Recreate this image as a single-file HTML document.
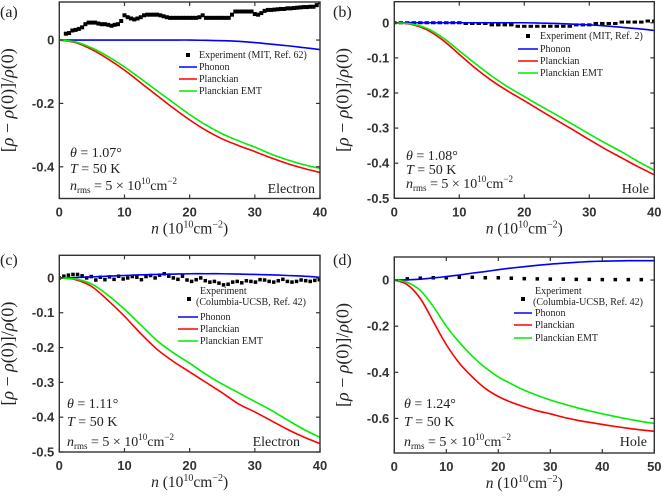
<!DOCTYPE html>
<html><head><meta charset="utf-8"><style>
html,body{margin:0;padding:0;background:#fff;}
svg{display:block;}
.tk{font-family:"Liberation Sans",sans-serif;font-weight:bold;font-size:13px;fill:#333;}
.sf{font-family:"Liberation Serif",serif;fill:#222;}
</style></head><body>
<svg id="fig" width="662" height="496" viewBox="0 0 662 496" xmlns="http://www.w3.org/2000/svg"></svg>
<script>
// ---- data ----
const nA = [0,2.5,5,7.5,10,12.5,15,17.5,20,22.5,25,27.5,30,32.5,35,37.5,40];
const nD = [0,2.5,5,7.5,10,12.5,15,17.5,20,22.5,25,27.5,30,32.5,35,37.5,40,42.5,45,47.5,50];
const redA = [0,-0.008,-0.03,-0.06,-0.095,-0.135,-0.175,-0.215,-0.252,-0.285,-0.312,-0.333,-0.352,-0.372,-0.39,-0.405,-0.418];
const greenA = [0,-0.006,-0.025,-0.052,-0.085,-0.122,-0.16,-0.198,-0.235,-0.268,-0.296,-0.318,-0.338,-0.36,-0.378,-0.393,-0.405];
const blueA = [0,0,0,0,0,0,0,0,0,-0.001,-0.002,-0.004,-0.008,-0.013,-0.018,-0.024,-0.03];
const expAn = [1,1.5,2,2.5,3,3.5,4,4.5,5,5.5,6,6.5,7,7.5,8,8.5,9,9.5,10,10.5,11,11.5,12,12.5,13,13.5,14,14.5,15,15.5,16,16.5,17,17.5,18,18.5,19,19.5,20,20.5,21,21.5,22,22.5,23,23.5,24,24.5,25,25.5,26,26.5,27,27.5,28,28.5,29,29.5,30,30.5,31,31.5,32,32.5,33,33.5,34,34.5,35,35.5,36,36.5,37,37.5,38,38.5,39,39.5,40];
const expAv = [0.02,0.022,0.03,0.032,0.035,0.04,0.05,0.055,0.055,0.055,0.052,0.05,0.05,0.048,0.045,0.048,0.05,0.06,0.078,0.072,0.068,0.065,0.068,0.072,0.078,0.08,0.08,0.08,0.08,0.078,0.075,0.072,0.07,0.07,0.07,0.07,0.07,0.07,0.07,0.07,0.07,0.072,0.078,0.07,0.07,0.07,0.07,0.07,0.07,0.07,0.07,0.08,0.09,0.09,0.09,0.09,0.09,0.09,0.082,0.08,0.085,0.092,0.095,0.095,0.096,0.097,0.098,0.098,0.1,0.1,0.101,0.102,0.103,0.104,0.104,0.105,0.105,0.11,0.12];
const redB = [0,-0.004,-0.02,-0.05,-0.09,-0.13,-0.165,-0.195,-0.222,-0.25,-0.278,-0.305,-0.333,-0.36,-0.385,-0.41,-0.433];
const greenB = [0,-0.003,-0.016,-0.043,-0.08,-0.117,-0.152,-0.183,-0.21,-0.237,-0.263,-0.29,-0.317,-0.343,-0.368,-0.395,-0.42];
const blueB = [0,0,0,0,0,0,0,0,0,-0.001,-0.002,-0.004,-0.006,-0.009,-0.013,-0.017,-0.022];
const expBn = [0,1,2,3,4,5,6,7,8,9,10,11,12,13,14,15,16,17,18,19,20,21,22,23,24,25,26,27,28,29,30,31,32,33,34,35,36,37,38,39,40];
const expBv = [0,0,0,0,0,0,0,0,0,0,0,-0.002,-0.002,-0.002,-0.002,-0.006,-0.006,-0.006,-0.006,-0.01,-0.01,-0.01,-0.01,-0.01,-0.01,-0.01,-0.01,-0.01,-0.006,-0.006,-0.006,-0.002,-0.002,-0.002,-0.002,0.002,0.002,0.002,0.002,0.005,0.005];
const redC = [0,-0.005,-0.025,-0.065,-0.11,-0.16,-0.205,-0.24,-0.27,-0.3,-0.33,-0.362,-0.385,-0.41,-0.435,-0.457,-0.476];
const greenC = [0,-0.003,-0.018,-0.05,-0.09,-0.135,-0.18,-0.215,-0.245,-0.277,-0.305,-0.33,-0.355,-0.38,-0.408,-0.435,-0.458];
const blueC = [0,0.001,0.003,0.005,0.007,0.009,0.01,0.011,0.012,0.012,0.012,0.011,0.01,0.009,0.007,0.005,0.002];
const expCn = [0,0.7,1.4,2.1,2.8,3.5,4.2,4.9,5.6,6.3,7,7.7,8.4,9.1,9.8,10.5,11.2,11.9,12.6,13.3,14,14.7,15.4,16.1,16.8,17.5,18.2,18.9,19.6,20.3,21,21.7,22.4,23.1,23.8,24.5,25.2,25.9,26.6,27.3,28,28.7,29.4,30.1,30.8,31.5,32.2,32.9,33.6,34.3,35,35.7,36.4,37.1,37.8,38.5,39.2,39.9];
const expCv = [0,0.005,0.008,0.01,0.01,0.006,0,0.004,-0.006,0.002,-0.005,0.003,-0.004,0.005,-0.003,0,0.004,0.002,-0.005,0.004,0.007,0,0.008,0.012,0.005,0,-0.004,0.005,-0.006,-0.01,-0.005,0,-0.008,-0.012,-0.01,-0.015,-0.02,-0.018,-0.012,-0.01,-0.014,-0.008,-0.01,-0.012,-0.005,-0.006,-0.01,-0.012,-0.008,-0.004,-0.01,-0.012,-0.01,-0.006,-0.008,-0.01,-0.007,-0.005];
const redD = [0,-0.02,-0.08,-0.18,-0.28,-0.36,-0.42,-0.47,-0.505,-0.53,-0.55,-0.567,-0.58,-0.595,-0.607,-0.617,-0.626,-0.635,-0.643,-0.65,-0.656];
const greenD = [0,-0.01,-0.045,-0.115,-0.2,-0.27,-0.33,-0.38,-0.42,-0.45,-0.478,-0.5,-0.52,-0.537,-0.553,-0.567,-0.58,-0.592,-0.603,-0.613,-0.622];
const blueD = [0,0.001,0.004,0.009,0.015,0.022,0.03,0.037,0.045,0.052,0.058,0.064,0.069,0.073,0.077,0.08,0.082,0.083,0.084,0.084,0.084];
const expDn = [2.5,5,7.5,10,12.5,15,17.5,20,22.5,25,27.5,30,32.5,35,37.5,40,42.5,45,47.5];
const expDv = [0.005,0.008,0.01,0.01,0.012,0.012,0.01,0.01,0.008,0.006,0.005,0.004,0.004,0.003,0.003,0.002,0.002,0.002,0.002];
const ticksA = [0,-0.2,-0.4], ticksB=[0,-0.1,-0.2,-0.3,-0.4,-0.5];
const xticks40=[0,10,20,30,40], xticks50=[0,10,20,30,40,50];

const NS="http://www.w3.org/2000/svg";
const svg=document.getElementById('fig');
function mk(tag,attrs,parent,text){const e=document.createElementNS(NS,tag);for(const k in attrs)e.setAttribute(k,attrs[k]);if(text!==undefined)e.textContent=text;(parent||svg).appendChild(e);return e;}
function smooth(pts){let d='M'+pts[0][0].toFixed(2)+','+pts[0][1].toFixed(2);
 for(let i=0;i<pts.length-1;i++){const p0=pts[Math.max(0,i-1)],p1=pts[i],p2=pts[i+1],p3=pts[Math.min(pts.length-1,i+2)];
 d+=' C'+(p1[0]+(p2[0]-p0[0])/6).toFixed(2)+','+(p1[1]+(p2[1]-p0[1])/6).toFixed(2)+' '+(p2[0]-(p3[0]-p1[0])/6).toFixed(2)+','+(p2[1]-(p3[1]-p1[1])/6).toFixed(2)+' '+p2[0].toFixed(2)+','+p2[1].toFixed(2);}
 return d;}

const panels=[
 {id:'a',L:59.3,R:320,T:2,B:198.5,xmax:40,ymin:-0.5,ymax:0.12,yt:ticksA,xt:xticks40,ns:nA,red:redA,green:greenA,blue:blueA,en:expAn,ev:expAv,mw:4,mh:4,
  lab:[0,12],th:'1.07',ty:[152,168,185],tx:70,car:'Electron',cx:315,cy:188,
  leg:{lx:179,lw:18,tx:199,ys:[55,67,79,91],exp:['Experiment (MIT, Ref. 62)']}},
 {id:'b',L:394.3,R:654.3,T:1.7,B:198.3,xmax:40,ymin:-0.5,ymax:0.06,yt:ticksB,xt:xticks40,ns:nA,red:redB,green:greenB,blue:blueB,en:expBn,ev:expBv,mw:4.5,mh:3,
  lab:[333,12],th:'1.08',ty:[155,169,183],tx:406,car:'Hole',cx:649,cy:188,
  leg:{lx:518,lw:20,tx:540,ys:[36,49,61,73],exp:['Experiment (MIT, Ref. 2)']}},
 {id:'c',L:59.3,R:320,T:255.3,B:452,xmax:40,ymin:-0.5,ymax:0.065,yt:ticksB,xt:xticks40,ns:nA,red:redC,green:greenC,blue:blueC,en:expCn,ev:expCv,mw:3.5,mh:3.5,
  lab:[0,260],th:'1.11',ty:[403,421,441],tx:67,car:'Electron',cx:300,cy:441,
  leg:{lx:178,lw:20,tx:200,ys:[299,317,329,341],exp:['Experiment','(Columbia-UCSB, Ref. 42)'],ex:[200,196],ey:[291,302],mx:189}},
 {id:'d',L:394.3,R:654.3,T:257,B:453,xmax:50,ymin:-0.75,ymax:0.1,yt:[0,-0.2,-0.4,-0.6],xt:xticks50,ns:nD,red:redD,green:greenD,blue:blueD,en:expDn,ev:expDv,mw:3.5,mh:3.5,
  lab:[333,260],th:'1.24',ty:[403,421,441],tx:404,car:'Hole',cx:647,cy:441,
  leg:{lx:514,lw:18,tx:535,ys:[299,313,325,338],exp:['Experiment','(Columbia-UCSB, Ref. 42)'],ex:[535,533],ey:[291,302],mx:523}}
];

panels.forEach(p=>{
 const g=mk('g',{});
 
 
 const X=v=>p.L+v/p.xmax*(p.R-p.L);
 const Y=v=>p.T+(p.ymax-v)/(p.ymax-p.ymin)*(p.B-p.T);
 const cid='clip'+p.id;
 const cp=mk('clipPath',{id:cid},g);mk('rect',{x:p.L,y:p.T,width:p.R-p.L,height:p.B-p.T},cp);
 const pl=mk('g',{'clip-path':'url(#'+cid+')'},g);
 
 
 const eg=mk('g',{fill:'#000'},pl);
 
 
 p.en.forEach((n,i)=>{const r=mk('rect',{x:X(n)-p.mw/2,y:Y(p.ev[i])-p.mh/2,width:p.mw,height:p.mh},eg);
  
  });
 [['blue','#0000ff','phonon-curve'],['red','#ff0000','planckian-curve'],['green','#00ee00','planckian-emt-curve']].forEach(s=>{
  const pts=p.ns.map((n,i)=>[X(n),Y(p[s[0]][i])]);
  const path=mk('path',{d:smooth(pts),fill:'none',stroke:s[1],'stroke-width':1.6},pl);
  
  
 });
 const fr=mk('rect',{x:p.L,y:p.T,width:p.R-p.L,height:p.B-p.T,fill:'none',stroke:'#333','stroke-width':1.4},g);
 
 
 p.yt.forEach(v=>{const y=Y(v);
  mk('line',{x1:p.L,x2:p.L+4,y1:y,y2:y,stroke:'#333','stroke-width':1.2},g);
  mk('line',{x1:p.R-4,x2:p.R,y1:y,y2:y,stroke:'#333','stroke-width':1.2},g);
  const t=mk('text',{x:p.L-5,y:y+4.5,'text-anchor':'end',class:'tk'},g,v===0?'0':v.toFixed(1));
  
  });
 p.xt.forEach(v=>{const x=X(v);
  mk('line',{x1:x,x2:x,y1:p.B,y2:p.B-4,stroke:'#333','stroke-width':1.2},g);
  mk('line',{x1:x,x2:x,y1:p.T,y2:p.T+4,stroke:'#333','stroke-width':1.2},g);
  const t=mk('text',{x:x,y:p.B+18,'text-anchor':'middle',class:'tk'},g,String(v));
  
  });
 const xl=mk('text',{x:(p.L+p.R)/2,y:p.B+35,'text-anchor':'middle',class:'sf','font-size':15.5,fill:'#333'},g);
 
 
 xl.innerHTML='<tspan font-style="italic">n</tspan> (10<tspan font-size="10" dy="-6">10</tspan><tspan dy="6">cm</tspan><tspan font-size="10" dy="-6">−2</tspan><tspan dy="6">)</tspan>';
 const cy=(p.T+p.B)/2, ylx=p.L-46;
 const yl=mk('text',{x:ylx,y:cy,'text-anchor':'middle',class:'sf','font-size':18,fill:'#333',transform:'rotate(-90 '+ylx+' '+cy+')'},g);
 
 
 yl.innerHTML='[<tspan font-style="italic">ρ</tspan> − <tspan font-style="italic">ρ</tspan>(0)]/<tspan font-style="italic">ρ</tspan>(0)';
 const pl2=mk('text',{x:p.lab[0],y:p.lab[1]+5,class:'sf','font-size':16},g,'('+p.id+')');
 
 
 const a1=mk('text',{x:p.tx,y:p.ty[0]+5,class:'sf','font-size':14},g);
 
 
 a1.innerHTML='<tspan font-style="italic">θ</tspan> = '+p.th+'°';
 const a2=mk('text',{x:p.tx,y:p.ty[1]+5,class:'sf','font-size':14},g);
 
 
 a2.innerHTML='<tspan font-style="italic">T</tspan> = 50 K';
 const a3=mk('text',{x:p.tx,y:p.ty[2]+5,class:'sf','font-size':14},g);
 
 
 a3.innerHTML='<tspan font-style="italic">n</tspan><tspan font-size="9" dy="3">rms</tspan><tspan dy="-3"> = 5 × 10</tspan><tspan font-size="9" dy="-6">10</tspan><tspan dy="6">cm</tspan><tspan font-size="9" dy="-6">−2</tspan>';
 const ca=mk('text',{x:p.cx,y:p.cy+5,'text-anchor':'end',class:'sf','font-size':14},g,p.car);
 
 
 const lg=mk('g',{},g);
 
 
 const L=p.leg, fs=10;
 const mx=L.mx!==undefined?L.mx:L.lx+L.lw/2;
 mk('rect',{x:mx-2,y:L.ys[0]-2,width:4,height:4,fill:'#000'},lg);
 if(L.exp.length===1){const t=mk('text',{x:L.tx,y:L.ys[0]+3,class:'sf','font-size':fs},lg,L.exp[0]);
  
  }
 else{L.exp.forEach((s,i)=>{const t=mk('text',{x:L.ex[i],y:L.ey[i]+3,class:'sf','font-size':fs},lg,s);
  
  });}
 [['#0000ff','Phonon'],['#ff0000','Planckian'],['#00ee00','Planckian EMT']].forEach((s,i)=>{
  const y=L.ys[i+1];
  mk('line',{x1:L.lx,x2:L.lx+L.lw,y1:y,y2:y,stroke:s[0],'stroke-width':1.6},lg);
  const t=mk('text',{x:L.tx,y:y+3,class:'sf','font-size':fs},lg,s[1]);
  
  
 });
});
</script>
</body></html>
